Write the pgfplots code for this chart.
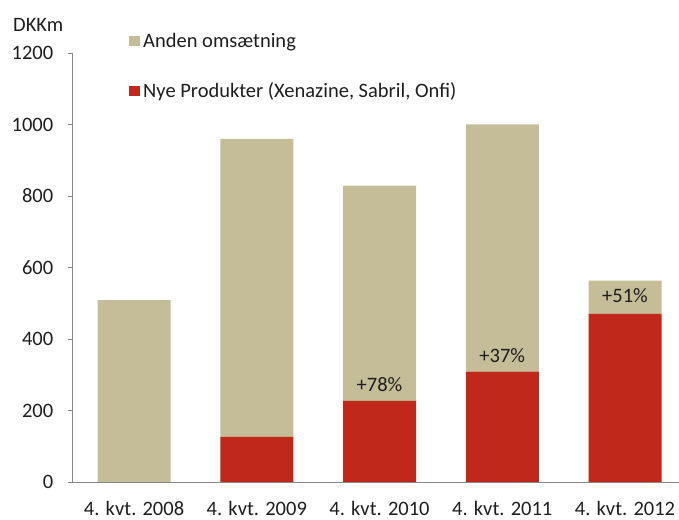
\documentclass[border=0pt]{standalone}
\usepackage{fontspec}
\setmainfont{Carlito}
\usepackage{pgfplots}
\pgfplotsset{compat=1.18}
\definecolor{beige}{HTML}{C4BD97}
\definecolor{rd}{HTML}{C0281C}
\definecolor{axgray}{HTML}{868686}
\definecolor{txt}{HTML}{1E1E1E}
\begin{document}
\begin{tikzpicture}[font=\fontsize{20.5bp}{24bp}\selectfont]
\useasboundingbox (0,0) rectangle (679bp,520bp);
\begin{axis}[
  at={(72.7bp,38bp)}, anchor=south west,
  scale only axis, width=606.3bp, height=429bp,
  ybar stacked, bar width=73bp,
  xmin=-0.5, xmax=4.44, ymin=0, ymax=1200,
  ytick={0,200,...,1200},
  xtick={0,1,2,3,4},
  xticklabels={4. kvt. 2008,4. kvt. 2009,4. kvt. 2010,4. kvt. 2011,4. kvt. 2012},
  minor xtick={-0.5,0.5,1.5,2.5,3.5},
  axis lines*=left,
  axis line style={axgray, line width=0.9bp},
  tick align=outside,
  major tick length=5bp, minor tick length=8bp,
  xtick style={draw=none},
  ytick style={axgray, line width=0.9bp},
  minor x tick style={axgray, line width=0.9bp},
  /pgf/number format/assume math mode=true,
  /pgf/number format/1000 sep={},
  scaled y ticks=false,
  ticklabel style={text=txt},
  yticklabel style={xshift=-11bp},
  xticklabel style={yshift=-11bp},
  legend style={at={(axis description cs:0.0929,1.0536)}, anchor=north west,
    draw=none, fill=none, row sep=28bp, inner sep=0pt,
    nodes={inner sep=3bp, text=txt}},
  legend cell align=left,
  reverse legend,
  legend image code/.code={\fill[#1] (0bp,-4.5bp) rectangle (11bp,5.5bp);},
  clip=false,
]
\addplot+[fill=rd, draw=none] coordinates {(0,0) (1,126) (2,227) (3,309) (4,470)};
\addlegendentry{Nye Produkter (Xenazine, Sabril, Onfi)}
\addplot+[fill=beige, draw=none] coordinates {(0,509) (1,834) (2,602) (3,691) (4,93)};
\addlegendentry{Anden omsætning}
\coordinate (p2) at (axis cs:2,227);
\coordinate (p3) at (axis cs:3,309);
\coordinate (p4) at (axis cs:4,470);
\coordinate (dk) at (axis description cs:-0.0985,1.051);
\end{axis}
\node[anchor=base, text=txt, yshift=9bp] at (p2) {+78\%};
\node[anchor=base, text=txt, yshift=9bp] at (p3) {+37\%};
\node[anchor=base, text=txt, yshift=11bp] at (p4) {+51\%};
\node[anchor=base west, text=txt, inner sep=0pt] at (dk) {DKKm};
\end{tikzpicture}
\end{document}
